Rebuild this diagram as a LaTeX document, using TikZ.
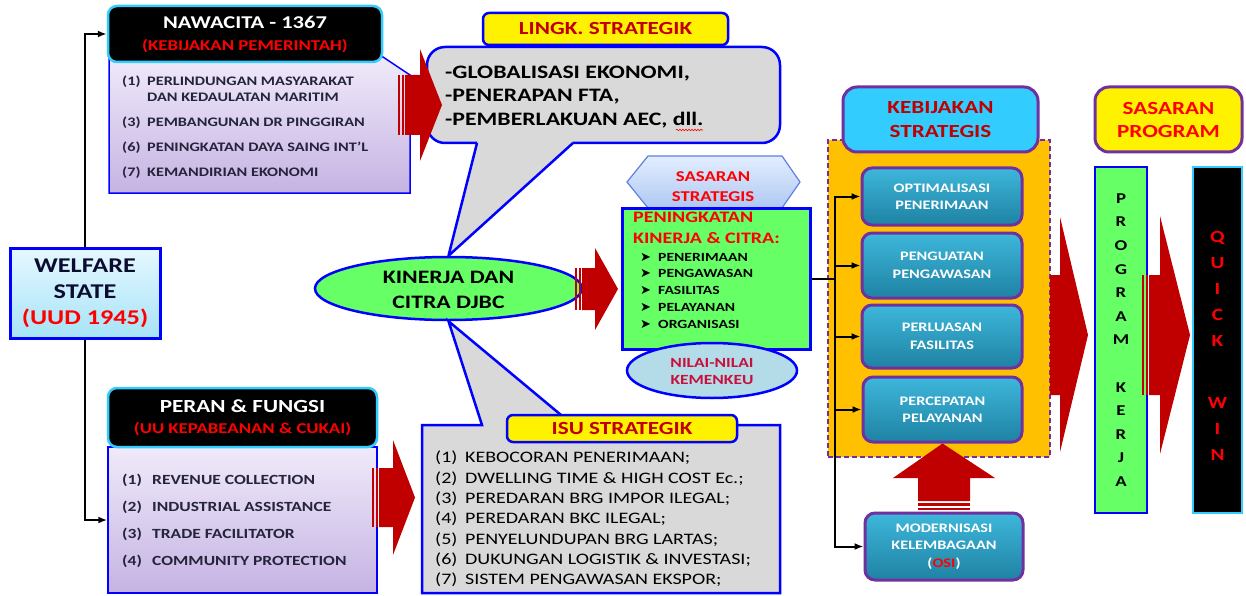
\documentclass[tikz,border=0pt]{standalone}
\usepackage{fontspec}
\setmainfont{Carlito}[FakeStretch=1.25]
\newfontfamily\symfont{DejaVu Sans}
\usetikzlibrary{arrows.meta,shapes.geometric,decorations.pathmorphing}

\definecolor{bluebd}{HTML}{0000FF}
\definecolor{arrowred}{HTML}{C00000}
\definecolor{headcyan}{HTML}{33CCFF}
\definecolor{kbpurple}{HTML}{7030A0}
\definecolor{limegreen}{HTML}{66FF66}
\definecolor{calloutgray}{HTML}{D9D9D9}
\definecolor{ambr}{HTML}{FFC000}
\definecolor{lavtop}{HTML}{F0EAFA}
\definecolor{lavbot}{HTML}{C5B3E3}
\definecolor{tealtop}{HTML}{3DB7DB}
\definecolor{tealbot}{HTML}{1F82A3}
\definecolor{skytop}{HTML}{E6F8FF}
\definecolor{skybot}{HTML}{A6E3F7}
\definecolor{hextop}{HTML}{E3EEFF}
\definecolor{hexbot}{HTML}{AFC8F2}
\definecolor{hexline}{HTML}{6080E0}
\definecolor{nilaiblue}{HTML}{B4DCE8}
\definecolor{nilaired}{HTML}{C8103C}
\definecolor{inktext}{HTML}{24243A}
\definecolor{navyink}{HTML}{0C0C30}

\newcommand{\fsz}[2]{\fontsize{#1}{#2}\selectfont}
\newcommand{\bulletglyph}{{\symfont\fontsize{13}{13}\selectfont ➤}}
% striped block arrow: tail x, head base x, tip x, mid y, half shaft, half head
\newcommand{\redarrow}[6]{%
  \fill[arrowred] (#1+7,#4-#5) -- (#2,#4-#5) -- (#2,#4-#6) -- (#3,#4)
      -- (#2,#4+#6) -- (#2,#4+#5) -- (#1+7,#4+#5) -- cycle;
  \fill[arrowred] (#1,#4-#5) rectangle (#1+2,#4+#5);
  \fill[arrowred] (#1+3.5,#4-#5) rectangle (#1+5.5,#4+#5);
}

\begin{document}
\begin{tikzpicture}[x=1pt,y=-1pt,
        >={Latex[length=9pt,width=7pt]},
        conn/.style={line width=2pt,black},
        welfarebox/.style={draw=bluebd,line width=3pt,top color=skytop,bottom color=skybot,
            align=center,text=navyink,inner sep=0pt,font=\bfseries\fsz{21}{26}},
        header/.style={draw=headcyan,line width=2.5pt,fill=black,rounded corners=9pt,
            align=center,text=white,inner sep=0pt},
        listbody/.style={draw=bluebd,line width=1.5pt,top color=lavtop,bottom color=lavbot},
        listtext/.style={anchor=west,inner sep=0pt,align=left,text=inktext},
        ylwhead/.style={draw=bluebd,line width=2.5pt,fill=yellow,rounded corners=6pt,
            text=arrowred,inner sep=0pt,font=\bfseries\fsz{18.5}{22}},
        callout/.style={draw=bluebd,line width=2.5pt,fill=calloutgray},
        greenbox/.style={draw=bluebd,line width=3pt,fill=limegreen,inner sep=0pt},
        oval/.style={ellipse,draw=bluebd,line width=2.5pt,inner sep=0pt},
        tealbox/.style={draw=kbpurple,line width=3pt,rounded corners=10pt,top color=tealtop,
            bottom color=tealbot,text=white,align=center,minimum width=160,inner sep=0pt,
            font=\bfseries\fsz{13}{17.5}},
        purplehead/.style={draw=kbpurple,line width=3pt,rounded corners=14pt,align=center,
            inner sep=0pt}]

    \path[use as bounding box,fill=white] (0,0) rectangle (1246,596);

    % left column
    \node[welfarebox,minimum width=150,minimum height=90] (welfare) at (85,293)
        {WELFARE\\STATE\\\textcolor{red}{(UUD 1945)}};

    \path[listbody] (109,57) -- (383,57) -- (410,75) -- (410,193) -- (109,193) -- cycle;
    \node[listtext,font=\bfseries\fsz{13}{16}] (nawalist) at (122,127.5)
        {\makebox[25pt][l]{(1)}PERLINDUNGAN MASYARAKAT\\
         \hspace*{25pt}DAN KEDAULATAN MARITIM\\[9pt]
         \makebox[25pt][l]{(3)}PEMBANGUNAN DR PINGGIRAN\\[9pt]
         \makebox[25pt][l]{(6)}PENINGKATAN DAYA SAING INT'L\\[9pt]
         \makebox[25pt][l]{(7)}KEMANDIRIAN EKONOMI};
    \node[header,minimum width=274,minimum height=56,font=\bfseries\fsz{18}{22}] (nawahead) at (245,34)
        {NAWACITA - 1367\\\textcolor{red}{\fsz{15}{22}(KEBIJAKAN PEMERINTAH)}};

    \node[listbody,minimum width=269,minimum height=146,inner sep=0pt] (peranbody) at (242.5,520) {};
    \node[listtext,font=\bfseries\fsz{14}{27}] (peranlist) at (122,520.5)
        {\makebox[30pt][l]{(1)}REVENUE COLLECTION\\
         \makebox[30pt][l]{(2)}INDUSTRIAL ASSISTANCE\\
         \makebox[30pt][l]{(3)}TRADE FACILITATOR\\
         \makebox[30pt][l]{(4)}COMMUNITY PROTECTION};
    \node[header,minimum width=269,minimum height=59,font=\bfseries\fsz{18.5}{21}] (peranhead) at (242.5,417.5)
        {PERAN \& FUNGSI\\\textcolor{red}{\fsz{15}{21}(UU KEPABEANAN \& CUKAI)}};

    \draw[conn,->] (welfare.north) |- (nawahead.west);
    \draw[conn,->] (welfare.south) |- (peranbody.west);

    % centre: kinerja and the two callouts
    \node[oval,fill=limegreen,minimum width=267,minimum height=63] (kinerja) at (448.5,288.5) {};
    \node[align=center,font=\bfseries\fsz{19}{25}] (kinertext) at (448.5,289.5) {KINERJA DAN\\CITRA DJBC};

    \node[callout,rounded corners=18pt,minimum width=353,minimum height=96,inner sep=0pt] (lingkbody) at (603.5,95) {};
    \fill[calloutgray] (kinerja.north) -- (477,143) -- (478,140) -- (572,140) -- (573,143) -- cycle;
    \draw[bluebd,line width=2.5pt,line join=round] (477,143) -- (kinerja.north) -- (573,143);
    \node[listtext,text=black,font=\bfseries\fsz{19}{23.5}] (lingktext) at (445,97)
        {-GLOBALISASI EKONOMI,\\-PENERAPAN FTA,\\-PEMBERLAKUAN AEC, dll.};
    \draw[red,line width=0.6pt,decorate,decoration={snake,amplitude=0.8pt,segment length=3pt}]
        (676,130) -- (703,130);
    \node[ylwhead,minimum width=245,minimum height=32] (lingkhead) at (605.5,29) {LINGK. STRATEGIK};

    \path[callout] (422,425) -- (482,425) -- (kinerja.south) -- (573,425) -- (780,425)
        -- (780,593) -- (422,593) -- cycle;
    \node[listtext,text=black,font=\mdseries\fsz{16}{20.3}] (isulist) at (435,519)
        {\makebox[30pt][l]{(1)}KEBOCORAN PENERIMAAN;\\
         \makebox[30pt][l]{(2)}DWELLING TIME \& HIGH COST Ec.;\\
         \makebox[30pt][l]{(3)}PEREDARAN BRG IMPOR ILEGAL;\\
         \makebox[30pt][l]{(4)}PEREDARAN BKC ILEGAL;\\
         \makebox[30pt][l]{(5)}PENYELUNDUPAN BRG LARTAS;\\
         \makebox[30pt][l]{(6)}DUKUNGAN LOGISTIK \& INVESTASI;\\
         \makebox[30pt][l]{(7)}SISTEM PENGAWASAN EKSPOR;};
    \node[ylwhead,minimum width=230,minimum height=27] (isuhead) at (622,428.5) {ISU STRATEGIK};

    \redarrow{398}{420}{442}{105}{30}{56}
    \redarrow{372}{393}{415}{497.5}{29.5}{57.5}

    % sasaran strategis
    \path[draw=hexline,line width=1.2pt,top color=hextop,bottom color=hexbot]
        (627,182) -- (648,156) -- (782,156) -- (800,182) -- (782,208) -- (648,208) -- cycle;
    \node[text=red,align=center,font=\bfseries\fsz{15}{20}] (sasstrat) at (713,187) {SASARAN\\STRATEGIS};
    \node[greenbox,minimum width=188,minimum height=141] (sasbox) at (716,278.5) {};
    \node[listtext,text=red,font=\bfseries\fsz{16}{21}] (sashead) at (633,227.5) {PENINGKATAN\\KINERJA \& CITRA:};
    \node[listtext,text=black,font=\bfseries\fsz{12.5}{16.75}] (saslist) at (640,290.5)
        {\makebox[18pt][l]{\bulletglyph}PENERIMAAN\\
         \makebox[18pt][l]{\bulletglyph}PENGAWASAN\\
         \makebox[18pt][l]{\bulletglyph}FASILITAS\\
         \makebox[18pt][l]{\bulletglyph}PELAYANAN\\
         \makebox[18pt][l]{\bulletglyph}ORGANISASI};
    \node[oval,fill=nilaiblue,minimum width=170,minimum height=55] (nilai) at (712,370.5) {};
    \node[text=nilaired,align=center,font=\bfseries\fsz{14}{17}] (nilaitext) at (712,371.5) {NILAI-NILAI\\KEMENKEU};

    \redarrow{575}{595}{618}{289}{21}{41}

    % kebijakan strategis
    \node[draw=kbpurple,line width=2pt,dash pattern=on 5pt off 3pt,fill=ambr,
        minimum width=222,minimum height=317,inner sep=0pt] (kbframe) at (939,298.5) {};
    \node[purplehead,fill=headcyan,minimum width=195,minimum height=65,text=arrowred,
        font=\bfseries\fsz{18.5}{24}] (kbhead) at (940.5,119.5) {KEBIJAKAN\\STRATEGIS};

    \node[tealbox,minimum height=57] (optim) at (942,196.5) {OPTIMALISASI\\PENERIMAAN};
    \node[tealbox,minimum height=65] (penguat) at (942,265.5) {PENGUATAN\\PENGAWASAN};
    \node[tealbox,minimum height=63] (perluas) at (942,336.5) {PERLUASAN\\FASILITAS};
    \node[tealbox,minimum height=65,minimum width=159] (percepat) at (942.5,409.5) {PERCEPATAN\\PELAYANAN};
    \node[tealbox,minimum height=67,minimum width=158] (modern) at (944,546.5)
        {MODERNISASI\\KELEMBAGAAN\\(\textcolor{red}{OSI})};

    \coordinate (branch) at (835,278.5);
    \draw[conn] (sasbox.east) -- (branch);
    \foreach \tgt in {optim,penguat,perluas,percepat,modern}
        \draw[conn,->] (branch) |- (\tgt.west);

    \fill[arrowred] (percepat.south) -- (995,478) -- (970,478) -- (970,501) -- (918,501)
        -- (918,478) -- (893,478) -- cycle;
    \fill[arrowred] (918,503) rectangle (970,505.5);
    \fill[arrowred] (918,507.5) rectangle (970,510);

    % right column
    \fill[arrowred] (1050,275) -- (1060,275) -- (1060,217) -- (1088,335) -- (1060,452)
        -- (1060,395) -- (1050,395) -- cycle;
    \node[purplehead,fill=yellow,minimum width=147,minimum height=65,text=red,
        font=\bfseries\fsz{18.5}{23}] (sasprog) at (1168.5,119.5) {SASARAN\\PROGRAM};
    \node[greenbox,line width=2.5pt,minimum width=52,minimum height=346,align=center,
        font=\bfseries\fsz{15}{23.6}] (progkerja) at (1121,340)
        {P\\R\\O\\G\\R\\A\\M\\\mbox{}\\K\\E\\R\\J\\A};
    \redarrow{1142}{1160}{1190}{335}{60}{119}
    \node[draw=headcyan,line width=2.5pt,fill=black,minimum width=49,minimum height=346,
        inner sep=0pt,text=red,align=center,font=\bfseries\fsz{17}{26}] (quickwin) at (1217.5,340)
        {\rule{0pt}{22pt}Q\\U\\I\\C\\K\\[36pt]W\\I\\N};

\end{tikzpicture}
\end{document}
